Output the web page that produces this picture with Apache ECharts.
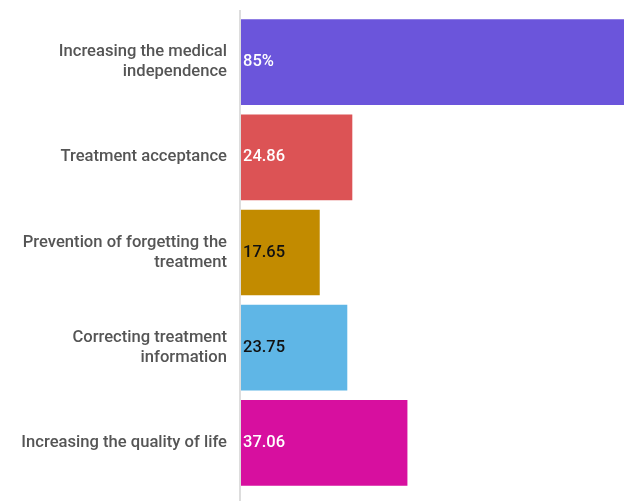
<!DOCTYPE html>
<html><head><meta charset="utf-8">
<script src="https://cdn.jsdelivr.net/npm/echarts@6/dist/echarts.min.js"></script>
<style>html,body{margin:0;padding:0;background:#fff}#c{width:633px;height:501px}</style>
</head><body><div id="c"></div>
<script>
const categories = ["Increasing the medical\nindependence","Treatment acceptance","Prevention of forgetting the\ntreatment","Correcting treatment\ninformation","Increasing the quality of life"];
const values = [85, 24.86, 17.65, 23.75, 37.06];
const valueLabels = ["85%", "24.86", "17.65", "23.75", "37.06"];
const barColors = ["#6b55db", "#dc5355", "#c28b00", "#5fb6e6", "#d70f9f"];
const labelColors = ["#ffffff", "#ffffff", "#111111", "#111111", "#ffffff"];

const chart = echarts.init(document.getElementById('c'), null, {renderer:'canvas'});
chart.setOption({
  animation:false,
  grid:{left:240, right:9, top:14.5, height:476},
  xAxis:{type:'value', min:0, max:85, show:false},
  yAxis:{type:'category', inverse:true, data:categories,
    axisLine:{show:false}, axisTick:{show:false},
    axisLabel:{margin:13, color:'#555555', fontFamily:'Roboto', fontWeight:500, fontSize:16.6, lineHeight:20, align:'right', padding:[3,0,0,0]}},
  graphic:[{type:'line', shape:{x1:240, y1:10, x2:240, y2:501}, style:{stroke:'#dddddd', lineWidth:2}, z:10}],
  series:[{type:'bar', barCategoryGap:'10%',
    data: values.map((v,i)=>({value:v, itemStyle:{color:barColors[i]}, label:{color:labelColors[i]}})),
    label:{show:true, position:'insideLeft', distance:3, fontFamily:'Roboto', fontWeight:500, fontSize:16.5,
      formatter:p=>valueLabels[p.dataIndex]}
  }]
});
</script></body></html>
